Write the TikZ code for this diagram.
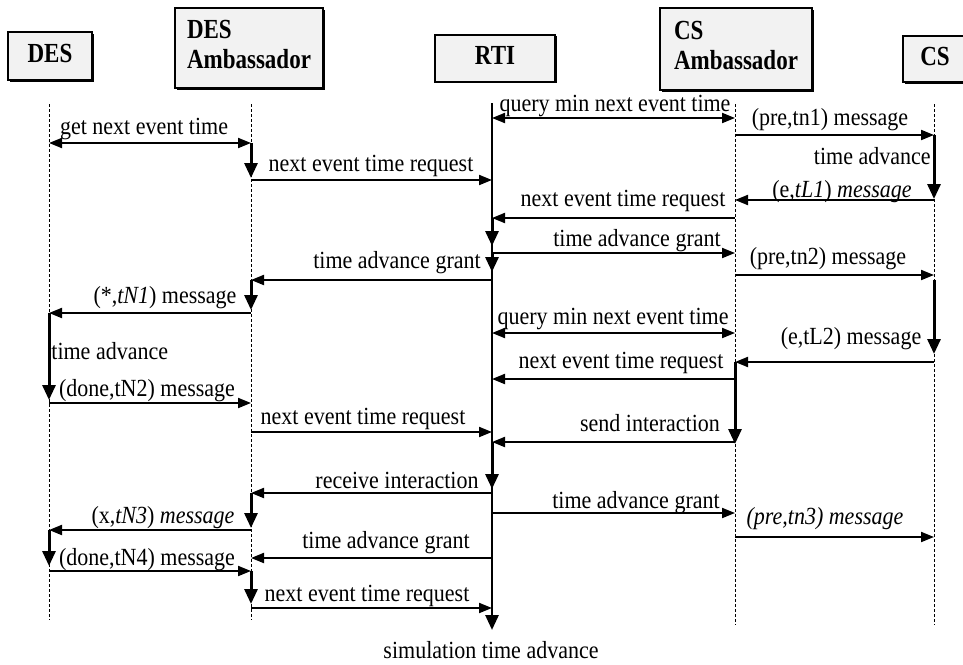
\documentclass[tikz,border=0pt]{standalone}
\usepackage{graphicx}
\usepackage{fontspec}
\setmainfont{Liberation Serif}
\usetikzlibrary{arrows.meta,shadows}

% slightly tall lettering for labels and participant names
\newcommand\tl[1]{\scalebox{1}[1.12]{#1}}
\newcommand\boxtext[1]{\scalebox{1}[1.2]{\begin{tabular}{@{}l@{}}#1\end{tabular}}}

\begin{document}
\begin{tikzpicture}[x=0.5pt,y=-0.5pt,
  font=\fontsize{11}{13}\selectfont,
  box/.style={draw, line width=1pt, fill=black!5,
    font=\fontsize{11.5}{12.5}\selectfont\bfseries, inner sep=0pt,
    drop shadow={shadow xshift=0.8pt, shadow yshift=-0.8pt, fill=black, opacity=1}},
  life/.style={line width=0.5pt, dash pattern=on 1.5pt off 1pt},
  msg/.style={line width=1pt, -{Triangle[length=6.5pt,width=5pt]}},
  both/.style={line width=1pt, {Triangle[length=6.5pt,width=5pt]}-{Triangle[length=6.5pt,width=5pt]}},
  act/.style={line width=1.5pt, -{Triangle[length=7.5pt,width=6.5pt]}},
  lbl/.style={inner sep=0pt, anchor=base},
]
\useasboundingbox (0,0) rectangle (963,664);

% participants
\node[box, minimum width=42pt, minimum height=24pt] (des) at (50,56) {\boxtext{DES}};
\node[box, minimum width=74pt, minimum height=40pt] (desamb) at (249,48) {\boxtext{DES\\Ambassador}};
\node[box, minimum width=60pt, minimum height=23.5pt] (rti) at (495,58) {\boxtext{RTI}};
\node[box, minimum width=76pt, minimum height=41pt] (csamb) at (736,49) {\boxtext{CS\\Ambassador}};
\node[box, minimum width=32pt, minimum height=23pt] (cs) at (935,59) {\boxtext{CS}};

% lifelines
\coordinate (lDES) at (49,104);  \coordinate (eDES) at (49,620);
\coordinate (lDA)  at (251,104); \coordinate (eDA)  at (251,620);
\coordinate (lRTI) at (492,103); \coordinate (eRTI) at (492,630);
\coordinate (lCA)  at (735,104); \coordinate (eCA)  at (735,625);
\coordinate (lCS)  at (934,104); \coordinate (eCS)  at (934,625);

\draw[life] (lDES) -- (eDES);
\draw[life] (lDA) -- (eDA);
\draw[life] (lCA) -- (eCA);
\draw[life] (lCS) -- (eCS);
\draw[act, line width=1.4pt] (lRTI) -- (eRTI);

% messages
\draw[both] (lDES |- 0,143) -- (lDA |- 0,143);
\draw[act]  (lDA |- 0,143) -- (lDA |- 0,178);
\draw[msg]  (lDA |- 0,180) -- (lRTI |- 0,180);
\draw[both] (lRTI |- 0,118) -- (lCA |- 0,118);
\draw[msg]  (lCA |- 0,135) -- (lCS |- 0,135);
\draw[act]  (lCS |- 0,135) -- (lCS |- 0,199);
\draw[msg]  (lCS |- 0,200) -- (lCA |- 0,200);
\draw[msg]  (lCA |- 0,218) -- (lRTI |- 0,218);
\draw[act]  (lRTI |- 0,218) -- (lRTI |- 0,246);
\draw[msg]  (lRTI |- 0,253) -- (lCA |- 0,253);
\draw[act]  (lRTI |- 0,253) -- (lRTI |- 0,272);
\draw[msg]  (lRTI |- 0,280) -- (lDA |- 0,280);
\draw[msg]  (lCA |- 0,275) -- (lCS |- 0,275);
\draw[act]  (lDA |- 0,280) -- (lDA |- 0,310);
\draw[msg]  (lDA |- 0,313) -- (lDES |- 0,313);
\draw[act]  (lDES |- 0,313) -- (lDES |- 0,400);
\draw[msg]  (lDES |- 0,403) -- (lDA |- 0,403);
\draw[both] (lRTI |- 0,333) -- (lCA |- 0,333);
\draw[act]  (lCS |- 0,280) -- (lCS |- 0,354);
\draw[msg]  (lCS |- 0,362) -- (lCA |- 0,362);
\draw[msg]  (lCA |- 0,379) -- (lRTI |- 0,379);
\draw[msg]  (lDA |- 0,432) -- (lRTI |- 0,432);
\draw[act]  (lCA |- 0,362) -- (lCA |- 0,444);
\draw[msg]  (lCA |- 0,442) -- (lRTI |- 0,442);
\draw[act]  (lRTI |- 0,442) -- (lRTI |- 0,489);
\draw[msg]  (lRTI |- 0,493) -- (lDA |- 0,493);
\draw[msg]  (lRTI |- 0,513) -- (lCA |- 0,513);
\draw[msg]  (lCA |- 0,537) -- (lCS |- 0,537);
\draw[act]  (lDA |- 0,493) -- (lDA |- 0,528);
\draw[msg]  (lDA |- 0,530) -- (lDES |- 0,530);
\draw[act]  (lDES |- 0,530) -- (lDES |- 0,566);
\draw[msg]  (lRTI |- 0,558) -- (lDA |- 0,558);
\draw[msg]  (lDES |- 0,571) -- (lDA |- 0,571);
\draw[act]  (lDA |- 0,571) -- (lDA |- 0,604);
\draw[msg]  (lDA |- 0,608) -- (lRTI |- 0,608);

% message labels
\node[lbl] (t1)  at (144,134) {\tl{get next event time}};
\node[lbl] (t2)  at (371,171) {\tl{next event time request}};
\node[lbl] (t3)  at (615,111) {\tl{query min next event time}};
\node[lbl] (t4)  at (830,125) {\tl{(pre,tn1) message}};
\node[lbl, anchor=base east] (t5) at (931,164) {\tl{time advance}};
\node[lbl] (t6)  at (842,197) {\tl{(e,\textit{tL1}) \textit{message}}};
\node[lbl] (t7)  at (623,206) {\tl{next event time request}};
\node[lbl] (t8)  at (637,246) {\tl{time advance grant}};
\node[lbl] (t9)  at (397,268) {\tl{time advance grant}};
\node[lbl] (t10) at (828,264) {\tl{(pre,tn2) message}};
\node[lbl] (t11) at (165,303) {\tl{(*,\textit{tN1}) message}};
\node[lbl, anchor=base west] (t12) at (51,359) {\tl{time advance}};
\node[lbl] (t13) at (147,396) {\tl{(done,tN2) message}};
\node[lbl] (t14) at (613,324) {\tl{query min next event time}};
\node[lbl] (t15) at (851,344) {\tl{(e,tL2) message}};
\node[lbl] (t16) at (621,368) {\tl{next event time request}};
\node[lbl] (t17) at (363,424) {\tl{next event time request}};
\node[lbl] (t18) at (650,431) {\tl{send interaction}};
\node[lbl] (t19) at (397,488) {\tl{receive interaction}};
\node[lbl] (t20) at (636,508) {\tl{time advance grant}};
\node[lbl] (t21) at (825,524) {\tl{\textit{(pre,tn3) message}}};
\node[lbl] (t22) at (163,523) {\tl{(x,\textit{tN3}) \textit{message}}};
\node[lbl] (t23) at (386,548) {\tl{time advance grant}};
\node[lbl] (t24) at (147,565) {\tl{(done,tN4) message}};
\node[lbl] (t25) at (367,601) {\tl{next event time request}};
\node[lbl] (t26) at (491,658) {\tl{simulation time advance}};
\end{tikzpicture}
\end{document}
